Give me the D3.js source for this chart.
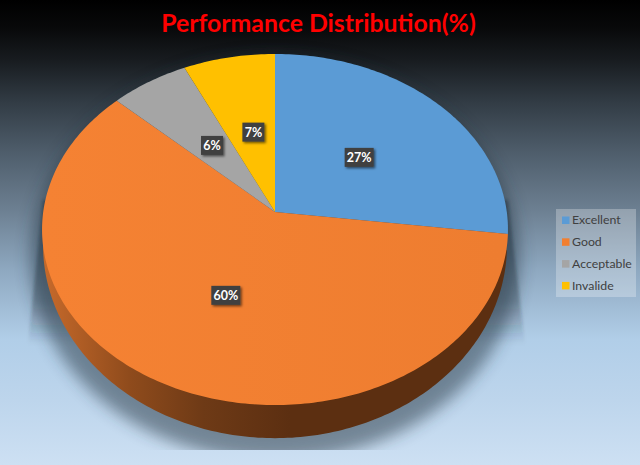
<!DOCTYPE html>
<html><head><meta charset="utf-8">
<script src="https://cdn.jsdelivr.net/npm/d3@7"></script>
<style>html,body{margin:0;padding:0;background:#000}svg{display:block}</style>
</head><body><svg id="c" width="640" height="465"></svg>
<script>
const categories=["Excellent","Good","Acceptable","Invalide"];
const percentValues=[27,60,6,7];
const sliceColors=["#5b9bd5","#f27f30","#a5a5a5","#ffc000"];
const chartTitle="Performance Distribution(%)";

const svg=d3.select("#c");
const defs=svg.append("defs");
const W=640,H=465;

function lin(id,x1,y1,x2,y2,stops){
  const g=defs.append("linearGradient").attr("id",id).attr("gradientUnits","userSpaceOnUse")
    .attr("x1",x1).attr("y1",y1).attr("x2",x2).attr("y2",y2);
  stops.forEach(s=>g.append("stop").attr("offset",s[0]).attr("stop-color",s[1]).attr("stop-opacity",s[2]===undefined?1:s[2]));
}
lin("bg",0,0,0,H,[[0,"#000000"],[0.06,"#08090a"],[0.13,"#181c20"],[0.22,"#323c45"],[0.33,"#4f5e6c"],[0.45,"#6c7f91"],[0.58,"#8ea8c0"],[0.73,"#b1cee8"],[0.86,"#bdd5ec"],[1,"#cde0f3"]]);
lin("wall",43,0,290,0,[[0,"#c76a2b"],[0.35,"#8f4b1c"],[0.65,"#6e3a16"],[1,"#5c2f11"]]);
lin("face",43,0,500,0,[[0,"#f58233"],[1,"#ee7d30"]]);
lin("shadeFade",0,200,0,345,[[0,"#1e2a36",0.45],[0.7,"#1e2a36",0.3],[1,"#1e2a36",0]]);

const blur=defs.append("filter").attr("id","blur").attr("x","-20%").attr("y","-20%").attr("width","140%").attr("height","140%");
blur.append("feGaussianBlur").attr("stdDeviation",8);
const soft=defs.append("filter").attr("id","soft").attr("x","-20%").attr("y","-20%").attr("width","140%").attr("height","140%");
soft.append("feGaussianBlur").attr("stdDeviation",1.6);
const ds=defs.append("filter").attr("id","ds").attr("x","-30%").attr("y","-30%").attr("width","170%").attr("height","170%");
ds.append("feDropShadow").attr("dx",1.5).attr("dy",1.5).attr("stdDeviation",1.2).attr("flood-color","#000").attr("flood-opacity",0.55);
defs.append("clipPath").attr("id","shClip").append("rect").attr("x",0).attr("y",0).attr("width",W).attr("height",450);

svg.append("rect").attr("width",W).attr("height",H).attr("fill","url(#bg)");

// perspective projection of the pie disc
const persp=-0.0997;
function projector(cx,cy,R,S){
  return (a,rho=1)=>{
    const X=rho*Math.sin(a),Y=-rho*Math.cos(a),w=1+persp*Y;
    return [cx+R*X/w,cy+S*Y/w];
  };
}
const topFace=projector(275,212,231.8,173.8);
const lowFace=projector(275,226,230.8,191);
const shadowFace=projector(275,238,243,200);

const arcs=d3.pie().sort(null)(percentValues);
const wedgePath=(p,d)=>{
  const n=Math.max(8,Math.ceil((d.endAngle-d.startAngle)*60));
  const pts=d3.range(n+1).map(i=>p(d.startAngle+(d.endAngle-d.startAngle)*i/n));
  return d3.line()([p(0,0),...pts])+"Z";
};
const full={startAngle:0,endAngle:2*Math.PI};

// shadow
const sh=svg.append("g").attr("clip-path","url(#shClip)");
sh.append("path").attr("d",d3.line()([[43,200],[508,200],[525,345],[28,345]])+"Z").attr("fill","url(#shadeFade)").attr("filter","url(#soft)");
sh.append("path").attr("d",wedgePath(shadowFace,full)).attr("fill","#23303c").attr("opacity",0.5).attr("filter","url(#blur)");

// wall of the front slice
svg.append("path").attr("d",wedgePath(lowFace,arcs[1])).attr("fill","url(#wall)");

// top faces
svg.append("g").selectAll("path").data(arcs).join("path")
  .attr("d",d=>wedgePath(topFace,d))
  .attr("fill",(d,i)=>i===1?"url(#face)":sliceColors[i]);

// data labels
const lab=svg.append("g").selectAll("g").data(arcs).join("g")
  .attr("transform",d=>{
    const mid=(d.startAngle+d.endAngle)/2,c=topFace(mid,0.5);
    return `translate(${c[0]+(mid>Math.PI?2.5:0)},${c[1]+1})`;
  });
lab.append("rect").attr("x",(d,i)=>percentValues[i]>=10?-14.5:-11).attr("y",-9.5)
  .attr("width",(d,i)=>percentValues[i]>=10?29:22).attr("height",19).attr("fill","#404040").attr("filter","url(#ds)");
lab.append("text").attr("text-anchor","middle").attr("y",4.5).attr("fill","#fff")
  .attr("font-family","Lato").attr("font-weight",700).attr("font-size",12.5)
  .text((d,i)=>percentValues[i]+"%");

// title
svg.append("text").attr("x",318.5).attr("y",32).attr("text-anchor","middle").attr("fill","#ff0000")
  .attr("font-family","Lato").attr("font-weight",700).attr("font-size",24.8).text(chartTitle);

// legend
const lg=svg.append("g").attr("transform","translate(556,209)");
lg.append("rect").attr("width",80).attr("height",88).attr("fill","#fff").attr("opacity",0.27);
const li=lg.selectAll("g").data(categories).join("g").attr("transform",(d,i)=>`translate(0,${11+i*21.8})`);
li.append("rect").attr("x",6).attr("y",-3.5).attr("width",7.5).attr("height",7.5).attr("fill",(d,i)=>sliceColors[i]);
li.append("text").attr("x",16).attr("y",4.3).attr("fill","#404040").attr("font-family","Lato").attr("font-size",12.3).text(d=>d);
</script></body></html>
